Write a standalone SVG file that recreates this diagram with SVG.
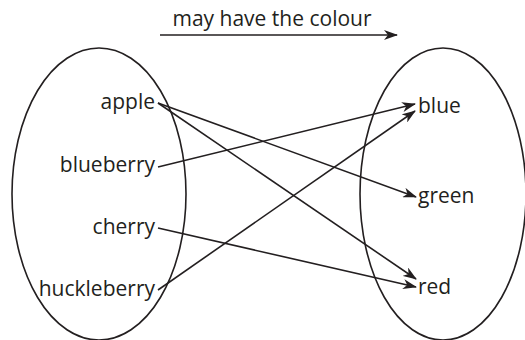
<svg xmlns="http://www.w3.org/2000/svg" width="525" height="340" viewBox="0 0 525 340">
<style>
text{font-family:"Open Sans","Noto Sans",sans-serif;font-size:21px;fill:#231f20}
.l{text-anchor:end}
.e{fill:none;stroke:#231f20;stroke-width:1.6}
.c line{stroke:#231f20;stroke-width:1.6;marker-end:url(#ah)}
</style>
<defs>
<marker id="ah" markerWidth="14" markerHeight="10" refX="13" refY="5" orient="auto" markerUnits="userSpaceOnUse">
<path d="M0,0 L14,5 L0,10 L4,5 Z" fill="#231f20"/>
</marker>
</defs>
<rect width="525" height="340" fill="#fff"/>
<g id="title">
<text x="272" y="26" text-anchor="middle">may have the colour</text>
</g>
<ellipse id="set-fruits" class="e" cx="99" cy="194" rx="87" ry="146"/>
<ellipse id="set-colours" class="e" cx="443" cy="194" rx="83" ry="146"/>
<g id="apple"><text class="l" x="155" y="109">apple</text></g>
<g id="blueberry"><text class="l" x="155" y="172">blueberry</text></g>
<g id="cherry"><text class="l" x="155" y="234">cherry</text></g>
<g id="huckleberry"><text class="l" x="155" y="296">huckleberry</text></g>
<g id="blue"><text x="418" y="113">blue</text></g>
<g id="green"><text x="418" y="203">green</text></g>
<g id="red"><text x="418" y="294">red</text></g>
<g class="c" id="connectors">
<line x1="160" y1="35" x2="397" y2="35"/>
<line x1="158" y1="103" x2="416" y2="197"/>
<line x1="158" y1="103" x2="416" y2="279"/>
<line x1="158" y1="167" x2="415" y2="104"/>
<line x1="158" y1="228" x2="416" y2="287"/>
<line x1="158" y1="290" x2="415" y2="111"/>
</g>
</svg>
